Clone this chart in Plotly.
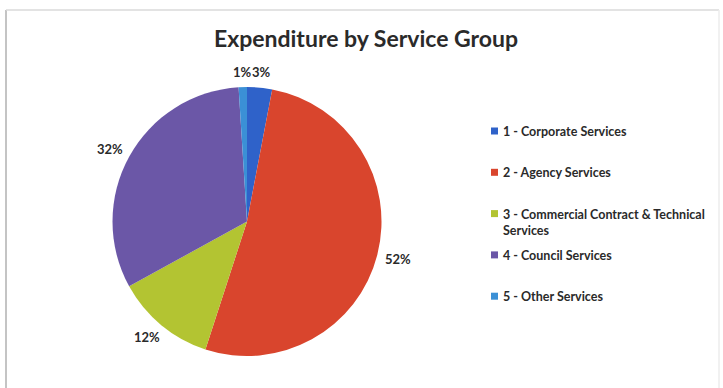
import math
import plotly.graph_objects as go

# Service groups and their share of expenditure (%)
categories = [
    "1 - Corporate Services",
    "2 - Agency Services",
    "3 - Commercial Contract & Technical<br>Services",
    "4 - Council Services",
    "5 - Other Services",
]
shares = [3, 52, 12, 32, 1]
colors = ["#2f62c9", "#d9452d", "#b3c432", "#6b57a7", "#3b90d6"]

W, H = 723, 388
CX, CY, R = 247.0, 221.5, 134.5  # pie centre and radius in pixels

FONT = "Lato"
TEXT_COLOR = "#2a2a2a"


def px(x):
    return x / W


def py(y):
    return 1 - y / H


fig = go.Figure(
    go.Pie(
        labels=[c.replace("<br>", " ") for c in categories],
        values=shares,
        marker=dict(colors=colors, line=dict(width=0)),
        sort=False,
        direction="clockwise",
        rotation=0,
        textinfo="none",
        hoverinfo="label+percent",
        showlegend=False,
        domain=dict(x=[px(CX - R), px(CX + R)], y=[py(CY + R), py(CY - R)]),
    )
)

annotations = []
shapes = []

# Percentage labels placed just outside each slice, at the slice's mid-angle
total = sum(shares)
cum = 0.0
for v in shares:
    mid = (cum + v / 2) / total * 2 * math.pi
    cum += v
    s, c = math.sin(mid), math.cos(mid)
    label = f"{round(v / total * 100)}%"
    w, h = 8.5 * len(label), 13
    x = CX + (R + 9) * s + w / 2 * s
    y = CY - (R + 9) * c - h / 2 * c
    annotations.append(
        dict(
            x=px(x), y=py(y), xref="paper", yref="paper",
            text=label, showarrow=False, xanchor="center", yanchor="middle",
            font=dict(family=FONT, size=13, color=TEXT_COLOR, weight="bold"),
        )
    )

# Legend: colour square + label per service group
LEG_X, LEG_Y0, LEG_STEP, SQ = 491, 131, 41.3, 7
for i, (name, col) in enumerate(zip(categories, colors)):
    yc = LEG_Y0 + i * LEG_STEP
    shapes.append(
        dict(
            type="rect", xref="paper", yref="paper",
            x0=px(LEG_X), x1=px(LEG_X + SQ), y0=py(yc + SQ / 2), y1=py(yc - SQ / 2),
            fillcolor=col, line=dict(width=0),
        )
    )
    annotations.append(
        dict(
            x=px(LEG_X + SQ + 3), y=py(yc - 9), xref="paper", yref="paper",
            text=name, showarrow=False, xanchor="left", yanchor="top", align="left",
            font=dict(family=FONT, size=12.5, color=TEXT_COLOR, weight="bold"),
        )
    )

# Chart frame
shapes += [
    dict(type="line", xref="paper", yref="paper", x0=px(6), x1=px(6), y0=py(10), y1=py(H),
         line=dict(color="#c4c4c4", width=2)),
    dict(type="line", xref="paper", yref="paper", x0=px(6), x1=px(719), y0=py(10), y1=py(10),
         line=dict(color="#dadada", width=1.5)),
    dict(type="line", xref="paper", yref="paper", x0=px(719), x1=px(719), y0=py(10), y1=py(H),
         line=dict(color="#ececec", width=1.5)),
]

fig.update_layout(
    width=W, height=H,
    margin=dict(l=0, r=0, t=0, b=0),
    paper_bgcolor="white", plot_bgcolor="white",
    title=dict(
        text="Expenditure by Service Group",
        x=px(366), y=py(39), xanchor="center", yanchor="middle", xref="paper", yref="paper",
        font=dict(family=FONT, size=23, color=TEXT_COLOR, weight="bold"),
    ),
    annotations=annotations,
    shapes=shapes,
)

fig.write_html("out.html")
